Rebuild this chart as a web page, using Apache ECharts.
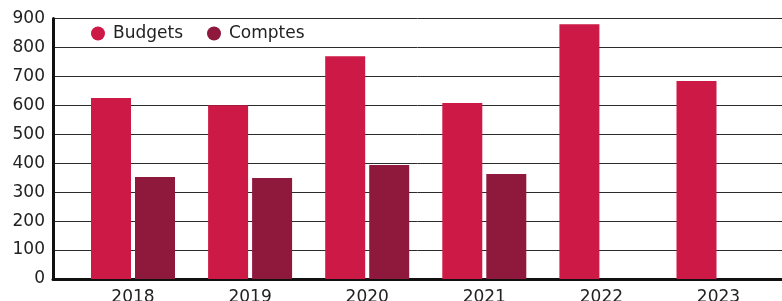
<!DOCTYPE html>
<html lang="fr">
<head>
  <meta charset="UTF-8">
  <title>Budgets et comptes</title>
  <script src="https://cdn.jsdelivr.net/npm/echarts@6.0.0/dist/echarts.min.js"></script>
  <style>
    html, body { margin: 0; padding: 0; background: #fff; }
    #chart { width: 782px; height: 301px; }
  </style>
</head>
<body>
  <div id="chart"></div>
  <script>
    // données
    const years = ['2018', '2019', '2020', '2021', '2022', '2023'];
    const budgets = [625, 600, 770, 608, 880, 684];
    const comptes = [352, 349, 394, 363, null, null];
    const yTicks = { min: 0, max: 900, step: 100 };

    const chart = echarts.init(document.getElementById('chart'), null, { renderer: 'canvas' });
    const font = 'DejaVu Sans';

    const option = {
      animation: false,
      textStyle: { fontFamily: font },
      legend: {
        left: 91, top: 25, padding: 0,
        icon: 'circle',
        itemWidth: 14, itemHeight: 14,
        itemGap: 24,
        textStyle: { fontFamily: font, fontSize: 17, color: '#222', padding: [0, 0, 0, 3] },
        data: ['Budgets', 'Comptes']
      },
      grid: [
        // grille pleine largeur : axe Y, lignes et axe X
        { left: 53, right: 0, top: 18.5, bottom: 22, outerBoundsMode: 'none', containLabel: false },
        // grille des barres
        { left: 74.45, right: 4.95, top: 18.5, bottom: 22, outerBoundsMode: 'none', containLabel: false }
      ],
      xAxis: [
        {
          gridIndex: 0, type: 'value', min: 0, max: 1,
          axisLine: { show: true, onZero: false, lineStyle: { color: '#111', width: 3 } },
          axisTick: { show: false }, axisLabel: { show: false }, splitLine: { show: false }
        },
        {
          gridIndex: 1, type: 'category', data: years,
          axisLine: { show: false }, axisTick: { show: false },
          axisLabel: { fontFamily: font, fontSize: 17, color: '#222', margin: 10 }
        }
      ],
      yAxis: [
        {
          gridIndex: 0, type: 'value', min: yTicks.min, max: yTicks.max, interval: yTicks.step,
          axisLine: { show: true, lineStyle: { color: '#111', width: 3 } },
          axisTick: { show: false },
          axisLabel: { fontFamily: font, fontSize: 17, color: '#222', margin: 8 },
          splitLine: { lineStyle: { color: '#2b2b2b', width: 1 } }
        },
        {
          gridIndex: 1, type: 'value', min: yTicks.min, max: yTicks.max, interval: yTicks.step,
          show: false
        }
      ],
      series: [
        {
          name: 'Budgets', type: 'bar', xAxisIndex: 1, yAxisIndex: 1,
          data: budgets, barWidth: 40, barGap: '10%',
          itemStyle: { color: '#CD1946' }
        },
        {
          name: 'Comptes', type: 'bar', xAxisIndex: 1, yAxisIndex: 1,
          data: comptes, barWidth: 40, barGap: '10%',
          itemStyle: { color: '#8E193D' }
        }
      ]
    };

    chart.setOption(option);
  </script>
</body>
</html>
